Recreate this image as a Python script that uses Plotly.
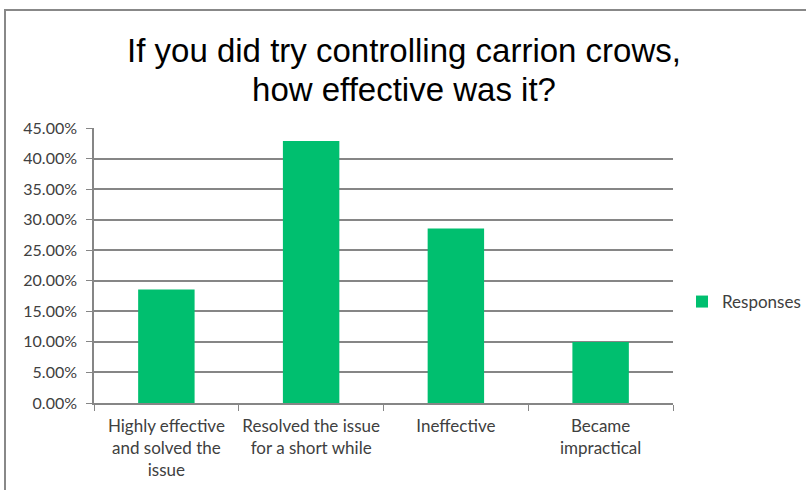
import plotly.graph_objects as go

categories = ["Highly effective<br>and solved the<br>issue",
              "Resolved the issue<br>for a short while",
              "Ineffective",
              "Became<br>impractical"]
responses = [0.1857, 0.4286, 0.2857, 0.10]
series_name = "Responses"
title_lines = ["If you did try controlling carrion crows,", "how effective was it?"]
tick_vals = [i * 0.05 for i in range(10)]
tick_text = ["%.2f%%" % (v * 100) for v in tick_vals]

W, H = 806, 490
ML, MR, MT, MB = 94, 133, 128, 87
PH = H - MT - MB
PW = W - ML - MR


def py(pix):
    # pixel row (from top) -> paper y
    return (H - MB - pix) / PH


def px(pix):
    # pixel column -> paper x
    return (pix - ML) / PW


fig = go.Figure()
fig.add_trace(go.Bar(x=categories, y=responses, name=series_name,
                     marker=dict(color="#00BF6F", line=dict(width=0)),
                     showlegend=True))

axis_gray = "#868686"
label_font = "Lato, Carlito, sans-serif"
# base font sets the line spacing (1.3 em), spans set the glyph size
title_text = "<br>".join("<span style='font-size:33px'>%s</span>" % t for t in title_lines)

fig.update_layout(
    width=W, height=H,
    margin=dict(l=ML, r=MR, t=MT, b=MB, autoexpand=False),
    paper_bgcolor="white", plot_bgcolor="white",
    bargap=0.61,
    title=dict(text=title_text, xref="container", x=404 / W, xanchor="center",
               yref="container", y=1 - 62 / H, yanchor="middle",
               font=dict(family="Liberation Sans, Arial", size=30, color="black")),
    showlegend=True,
    legend=dict(x=px(682), y=py(302), xanchor="left", yanchor="middle",
                font=dict(family=label_font, size=17, color="#404040"),
                itemwidth=30, bgcolor="rgba(0,0,0,0)"),
    font=dict(family=label_font, size=17, color="#404040"),
    xaxis=dict(showline=True, linecolor=axis_gray, linewidth=1.5,
               ticks="outside", tickson="boundaries", ticklen=6, tickcolor=axis_gray,
               tickangle=0, ticklabelstandoff=7,
               tickfont=dict(size=17, color="#404040"), showgrid=False,
               automargin=False),
    yaxis=dict(range=[0, 0.45], tickvals=tick_vals, ticktext=tick_text,
               showline=True, linecolor=axis_gray, linewidth=1.5,
               ticks="outside", ticklen=6, tickcolor=axis_gray,
               showgrid=True, gridcolor=axis_gray, gridwidth=1.5,
               zeroline=False, ticklabelstandoff=6, automargin=False,
               tickfont=dict(size=16, color="#404040")),
    shapes=[dict(type="rect", xref="paper", yref="paper",
                 x0=px(5), x1=px(W + 50), y0=py(H + 50), y1=py(10),
                 line=dict(color="#888888", width=2), fillcolor="rgba(0,0,0,0)",
                 layer="below")],
)

fig.write_html("out.html", config={"displayModeBar": False},
               post_script="document.body.style.margin='0';")
